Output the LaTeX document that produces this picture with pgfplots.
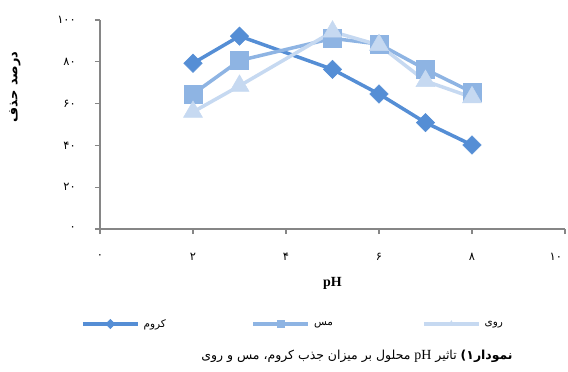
\documentclass[border=0pt]{standalone}
\usepackage{fontspec}
\setmainfont{Liberation Serif}
\newfontfamily\arabicfont[Script=Arabic]{DejaVu Sans}
\usepackage{pgfplots}
\pgfplotsset{compat=1.18}
\TeXXeTstate=1
\definecolor{cr}{RGB}{85,142,213}
\definecolor{cu}{RGB}{142,180,227}
\definecolor{zn}{RGB}{198,217,241}
\definecolor{axgray}{RGB}{134,134,134}
\begin{document}
\begin{tikzpicture}
\path[use as bounding box] (-100bp,-143bp) rectangle (468bp,229bp);
\begin{axis}[
  at={(0,0)}, anchor=south west,
  scale only axis, width=465bp, height=209bp,
  xmin=0, xmax=10, ymin=0, ymax=100,
  xtick={0,2,4,6,8,10},
  xticklabels={۰,۲,۴,۶,۸,{\llap{۱۰}\hphantom{۰}}},
  ytick={0,20,40,60,80,100},
  yticklabels={۰,۲۰,۴۰,۶۰,۸۰,۱۰۰},
  axis lines*=left,
  axis line style={axgray, line width=1.3bp},
  every tick/.style={axgray, line width=1.3bp},
  tick align=outside, major tick length=5bp,
  ticklabel style={font=\arabicfont\fontsize{11.5}{13}\selectfont},
  yticklabel style={anchor=east, inner sep=0pt, xshift=-19bp},
  xticklabel style={anchor=center, inner sep=0pt, yshift=-23bp},
  xlabel={\bfseries pH},
  xlabel style={at={(axis description cs:0.5,-0.258)}, anchor=center, font=\fontsize{14}{16}\selectfont},
  ylabel={\arabicfont\bfseries\beginR درصد حذف\endR},
  ylabel style={at={(axis description cs:-0.183,0.68)}, anchor=center, font=\fontsize{13}{15}\selectfont},
  legend columns=3,
  legend style={at={(-0.041,-0.4545)}, anchor=west, draw=none, fill=none, inner sep=0pt,
    font=\arabicfont\fontsize{10.5}{12}\selectfont,
    /tikz/every even column/.append style={column sep=4bp},
    /tikz/every odd column/.append style={column sep=4bp},
    nodes={text width=104bp, align=left, inner sep=0pt}},
  legend image code/.code={
    \draw[#1, mark=none] (0bp,0bp) -- (55bp,0bp);
    \draw[#1, mark size=3.3bp] plot coordinates {(27.5bp,0bp)};
  },
  clip=false,
]
\addplot[cr, line width=3.5bp, mark=square*, mark size=6.5bp,
  mark options={solid, rotate=45, fill=cr, draw=cr, line width=0.5bp}]
  coordinates {(2,79.3) (3,92.3) (5,76.4) (6,64.6) (7,50.9) (8,40.2)};
\addlegendentry{کروم}
\addplot[cu, line width=3.5bp, mark=square*, mark size=9bp,
  mark options={solid, fill=cu, draw=cu, line width=0.5bp}]
  coordinates {(2,64.6) (3,80.6) (5,91.2) (6,88.5) (7,76.4) (8,65.5)};
\addlegendentry{مس}
\addplot[zn, line width=3.5bp, mark=triangle*, mark size=11bp,
  mark options={solid, fill=zn, draw=zn, line width=0.5bp}]
  coordinates {(2,56) (3,68.5) (5,94.4) (6,88) (7,70.8) (8,63)};
\addlegendentry{روی}
\end{axis}
\node[anchor=center, font=\arabicfont\fontsize{12.5}{14}\selectfont] at (257bp,-127bp)
  {\beginR\textbf{نمودار\kern0pt۱)} تاثیر \beginL{\rmfamily\fontsize{14}{16}\selectfont pH}\endL{} محلول بر میزان جذب کروم، مس و روی\endR};
\end{tikzpicture}
\end{document}
